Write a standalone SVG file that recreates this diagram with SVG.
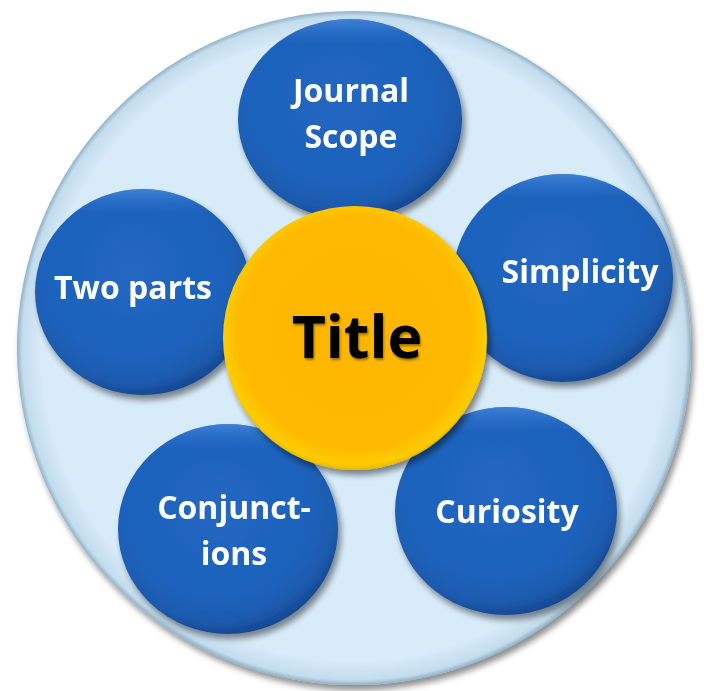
<svg xmlns="http://www.w3.org/2000/svg" width="704" height="691" viewBox="0 0 704 691">
<defs>
<radialGradient id="bg" cx="50%" cy="50%" r="50%">
<stop offset="0.93" stop-color="#D7EBF9"/>
<stop offset="0.985" stop-color="#C4DCEC"/>
<stop offset="1" stop-color="#8FB3C8"/>
</radialGradient>
<radialGradient id="blue" cx="45%" cy="40%" r="60%">
<stop offset="0" stop-color="#2167C2"/>
<stop offset="0.7" stop-color="#1E62BC"/>
<stop offset="0.9" stop-color="#1C5AAE"/>
<stop offset="1" stop-color="#174A95"/>
</radialGradient>
<linearGradient id="blueHi" x1="0" y1="0" x2="0" y2="1">
<stop offset="0" stop-color="#4C8EE0" stop-opacity="0.7"/>
<stop offset="0.12" stop-color="#2C74D2" stop-opacity="0"/>
<stop offset="1" stop-color="#2C74D2" stop-opacity="0"/>
</linearGradient>
<radialGradient id="gold" cx="50%" cy="48%" r="52%">
<stop offset="0" stop-color="#FFB500"/>
<stop offset="0.85" stop-color="#FFBA00"/>
<stop offset="0.96" stop-color="#FFCC00"/>
<stop offset="1" stop-color="#E6B800"/>
</radialGradient>
<filter id="sh" x="-20%" y="-20%" width="140%" height="140%">
<feGaussianBlur in="SourceAlpha" stdDeviation="3"/>
<feOffset dx="3" dy="5" result="b"/>
<feComponentTransfer><feFuncA type="linear" slope="0.45"/></feComponentTransfer>
<feMerge><feMergeNode/><feMergeNode in="SourceGraphic"/></feMerge>
</filter>
<filter id="tsh" x="-10%" y="-10%" width="120%" height="130%">
<feGaussianBlur in="SourceAlpha" stdDeviation="1.2"/>
<feOffset dx="1" dy="2"/>
<feComponentTransfer><feFuncA type="linear" slope="0.4"/></feComponentTransfer>
<feMerge><feMergeNode/><feMergeNode in="SourceGraphic"/></feMerge>
</filter>
</defs>
<style>
.lbl{font-family:"Open Sans",Lato,"Liberation Sans",sans-serif;font-weight:bold;font-size:32px;fill:#FFFFFF;text-anchor:middle}
.title{font-family:"Open Sans",Lato,"Liberation Sans",sans-serif;font-weight:bold;font-size:59px;fill:#000000;text-anchor:middle}
</style>
<g id="background">
<circle cx="354" cy="348" r="337" fill="url(#bg)" filter="url(#sh)"/>
</g>
<g id="connectors"/>
<g id="node-journal-scope" filter="url(#sh)">
<ellipse cx="350" cy="119" rx="112" ry="100" fill="url(#blue)"/>
<ellipse cx="350" cy="119" rx="112" ry="100" fill="url(#blueHi)"/>
<text class="lbl" x="351" y="102">Journal</text>
<text class="lbl" x="351" y="148">Scope</text>
</g>
<g id="node-simplicity" filter="url(#sh)">
<ellipse cx="563" cy="278" rx="110" ry="104" fill="url(#blue)"/>
<ellipse cx="563" cy="278" rx="110" ry="104" fill="url(#blueHi)"/>
<text class="lbl" x="580" y="283">Simplicity</text>
</g>
<g id="node-two-parts" filter="url(#sh)">
<ellipse cx="143" cy="292" rx="108" ry="103" fill="url(#blue)"/>
<ellipse cx="143" cy="292" rx="108" ry="103" fill="url(#blueHi)"/>
<text class="lbl" x="133" y="299">Two parts</text>
</g>
<g id="node-conjunctions" filter="url(#sh)">
<ellipse cx="228" cy="529" rx="110" ry="105" fill="url(#blue)"/>
<ellipse cx="228" cy="529" rx="110" ry="105" fill="url(#blueHi)"/>
<text class="lbl" x="234" y="519">Conjunct-</text>
<text class="lbl" x="234" y="565">ions</text>
</g>
<g id="node-curiosity" filter="url(#sh)">
<ellipse cx="506" cy="511" rx="111" ry="104" fill="url(#blue)"/>
<ellipse cx="506" cy="511" rx="111" ry="104" fill="url(#blueHi)"/>
<text class="lbl" x="507" y="523">Curiosity</text>
</g>
<g id="node-title" filter="url(#sh)">
<circle cx="355" cy="338" r="132" fill="url(#gold)"/>
<text class="title" x="357" y="358" filter="url(#tsh)">Title</text>
</g>
</svg>
